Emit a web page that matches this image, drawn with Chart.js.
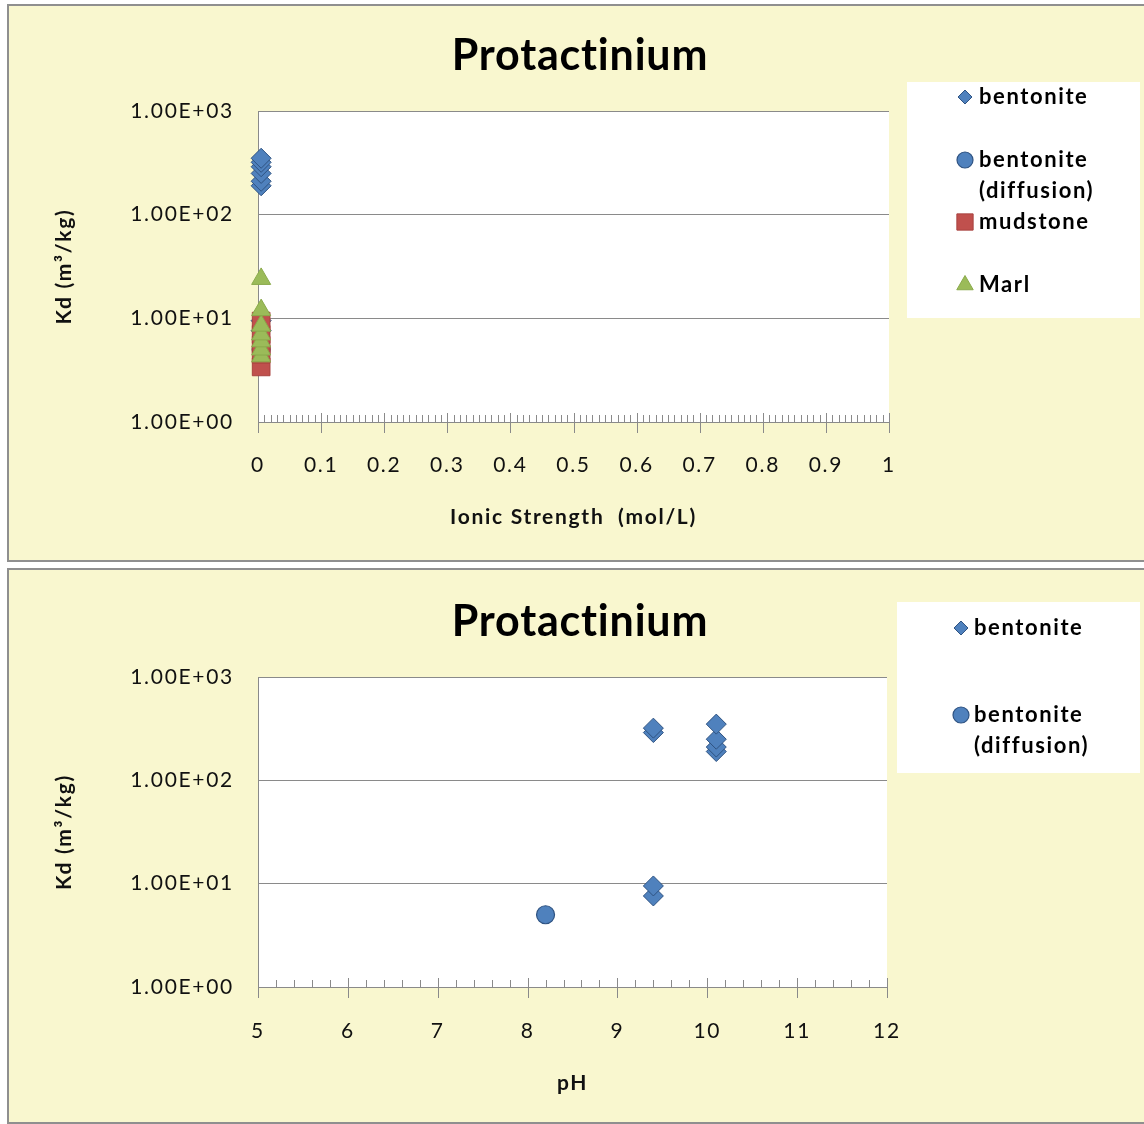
<!DOCTYPE html>
<html>
<head>
<meta charset="utf-8">
<title>Protactinium Kd</title>
<script src="https://cdn.jsdelivr.net/npm/chart.js@4.4.1/dist/chart.umd.min.js"></script>
<style>
  html, body { margin: 0; padding: 0; background: #ffffff; width: 1144px; height: 1124px; overflow: hidden; }
  .panel { position: absolute; left: 7px; width: 1150px; background: #F9F7CF; border: 2px solid #8f8f8f; box-sizing: border-box; }
  #p1 { top: 4px; height: 558px; }
  #p2 { top: 568px; height: 556px; }
  .wrap { position: absolute; left: 0; width: 1144px; }
  #w1 { top: 0; height: 565px; }
  #w2 { top: 565px; height: 559px; }
</style>
</head>
<body>
<div class="panel" id="p1"></div>
<div class="panel" id="p2"></div>
<div class="wrap" id="w1"><canvas id="c1"></canvas></div>
<div class="wrap" id="w2"><canvas id="c2"></canvas></div>
<script>
// ---- data ----
const chartTitle = 'Protactinium';
const seriesNames = ['bentonite', 'bentonite (diffusion)', 'mudstone', 'Marl'];
const kdTicks = [1, 10, 100, 1000];

// Kd versus ionic strength (mol/L)
const ionicBentoniteX = [0.005, 0.005, 0.005, 0.005, 0.005, 0.005, 0.005, 0.005];
const ionicBentoniteKd = [7.6, 9.5, 190, 210, 250, 290, 320, 350];
const ionicDiffusionX = [0.005];
const ionicDiffusionKd = [5];
const ionicMudstoneX = [0.005, 0.005, 0.005, 0.005, 0.005];
const ionicMudstoneKd = [3.4, 4.5, 5.5, 7, 9.4];
const ionicMarlX = [0.005, 0.005, 0.005, 0.005, 0.005, 0.005, 0.005];
const ionicMarlKd = [4.3, 5, 6, 7, 8.5, 12, 24];

// Kd versus pH
const phBentoniteX = [9.4, 9.4, 9.4, 9.4, 10.1, 10.1, 10.1, 10.1];
const phBentoniteKd = [7.6, 9.5, 290, 320, 190, 210, 250, 350];
const phDiffusionX = [8.2];
const phDiffusionKd = [5];

// ---- helpers ----
const pts = (xs, ys) => xs.map((x, i) => ({ x: x, y: ys[i] }));

function sciLabel(v) {
  const parts = Number(v).toExponential(2).split('e');
  const exp = parts[1];
  return parts[0] + 'E' + exp[0] + exp.slice(1).padStart(2, '0');
}
const plainLabel = v => String(Number(Number(v).toFixed(2)));

Chart.defaults.font.family = 'Lato';
Chart.defaults.font.size = 21;
Chart.defaults.color = '#111111';

const AXIS_GREY = '#8a8a8a';
const TEXT_SPACING = '1.7px';

const seriesStyle = [
  { pointStyle: 'rectRot', radius: 10, backgroundColor: '#4F81BD', borderColor: '#2F5382', borderWidth: 1 },
  { pointStyle: 'circle', radius: 9, backgroundColor: '#4F81BD', borderColor: '#2F5382', borderWidth: 1.2 },
  { pointStyle: 'rect', radius: 12.5, backgroundColor: '#C0504D', borderColor: '#A8423F', borderWidth: 1 },
  { pointStyle: 'triangle', radius: 11, backgroundColor: '#9BBB59', borderColor: '#8AAA4B', borderWidth: 1 }
];

function makeDataset(idx, data) {
  const s = seriesStyle[idx];
  return {
    label: seriesNames[idx],
    data: data,
    showLine: false,
    pointStyle: s.pointStyle,
    pointRadius: s.radius,
    pointHoverRadius: s.radius,
    backgroundColor: s.backgroundColor,
    borderColor: s.borderColor,
    borderWidth: s.borderWidth,
    order: 4 - idx,
    clip: false
  };
}

// slightly wider letter spacing for all chart text
const textSpacing = {
  id: 'textSpacing',
  beforeUpdate(chart) { chart.ctx.letterSpacing = TEXT_SPACING; },
  beforeDraw(chart) { chart.ctx.letterSpacing = TEXT_SPACING; }
};

// white plot area
const plotBackground = {
  id: 'plotBackground',
  beforeDraw(chart) {
    const a = chart.chartArea, ctx = chart.ctx;
    ctx.save();
    ctx.fillStyle = '#ffffff';
    ctx.fillRect(a.left, a.top, a.right - a.left, a.bottom - a.top);
    ctx.restore();
  }
};

// major ticks crossing the x axis, minor ticks pointing into the plot
const axisTicks = {
  id: 'axisTicks',
  beforeDatasetsDraw(chart, args, opts) {
    const s = chart.scales.x, ctx = chart.ctx;
    const y0 = s.top;
    const n = Math.round((s.max - s.min) / opts.minorStep);
    ctx.save();
    ctx.strokeStyle = opts.color;
    ctx.lineWidth = 1;
    for (let i = 0; i <= n; i++) {
      const v = s.min + i * opts.minorStep;
      const x = Math.round(s.getPixelForValue(v)) + 0.5;
      const major = i % opts.perMajor === 0;
      ctx.beginPath();
      ctx.moveTo(x, y0 - (major ? 9 : 7));
      ctx.lineTo(x, y0 + (major ? 11 : 0));
      ctx.stroke();
    }
    ctx.restore();
  }
};

// chart heading
const panelTitle = {
  id: 'panelTitle',
  afterDraw(chart, args, opts) {
    const ctx = chart.ctx;
    ctx.save();
    ctx.letterSpacing = opts.spacing;
    ctx.font = opts.font;
    ctx.fillStyle = '#000000';
    ctx.textAlign = 'center';
    ctx.textBaseline = 'middle';
    ctx.fillText(opts.text, opts.x, opts.y);
    ctx.restore();
  }
};

// legend box to the right of the plot
const sideLegend = {
  id: 'sideLegend',
  afterDraw(chart, args, opts) {
    const ctx = chart.ctx;
    ctx.save();
    ctx.fillStyle = '#ffffff';
    ctx.fillRect(opts.box.x, opts.box.y, opts.box.w, opts.box.h);
    opts.items.forEach(item => {
      const ds = chart.data.datasets[item.dataset];
      ctx.fillStyle = ds.backgroundColor;
      ctx.strokeStyle = ds.borderColor;
      ctx.lineWidth = ds.borderWidth;
      Chart.helpers.drawPoint(ctx, { pointStyle: ds.pointStyle, radius: item.radius, borderWidth: ds.borderWidth, rotation: 0 }, opts.markerX, item.y);
      ctx.fillStyle = '#000000';
      ctx.font = opts.font;
      ctx.letterSpacing = opts.spacing;
      ctx.textAlign = 'left';
      ctx.textBaseline = 'middle';
      const lines = ds.label.replace(' (', '\n(').split('\n');
      lines.forEach((t, k) => ctx.fillText(t, opts.textX, item.y + k * opts.lineGap));
    });
    ctx.restore();
  }
};

function buildOptions(cfg) {
  return {
    responsive: true,
    maintainAspectRatio: false,
    animation: false,
    events: [],
    layout: { padding: cfg.padding },
    plugins: {
      legend: { display: false },
      tooltip: { enabled: false },
      title: { display: false },
      panelTitle: { text: chartTitle, font: 'bold 43px Lato', spacing: '0.8px', x: 580, y: cfg.titleY },
      axisTicks: { minorStep: cfg.minorStep, perMajor: cfg.perMajor, color: AXIS_GREY },
      sideLegend: cfg.legend
    },
    scales: {
      x: {
        type: 'linear',
        min: cfg.xMin,
        max: cfg.xMax,
        ticks: { stepSize: cfg.xStep, padding: cfg.xLabelPad, font: { size: 21 }, color: '#111111', maxRotation: 0, callback: v => plainLabel(v) },
        grid: { display: false, drawTicks: false },
        border: { display: true, color: AXIS_GREY, width: 1 },
        title: { display: true, text: cfg.xTitle, font: { size: 21, weight: 'bold' }, color: '#111111', padding: { top: 0, bottom: cfg.xTitlePad } },
        afterFit(scale) { scale.height = 111; }
      },
      y: {
        type: 'logarithmic',
        min: 1,
        max: 1000,
        afterBuildTicks(scale) { scale.ticks = kdTicks.map(v => ({ value: v })); },
        ticks: { callback: v => sciLabel(v), padding: 24, font: { size: 21 }, color: '#111111' },
        grid: { color: AXIS_GREY, lineWidth: 1, drawTicks: false },
        border: { display: true, color: AXIS_GREY, width: 1 },
        title: { display: true, text: 'Kd (m³/kg)', font: { size: 21, weight: 'bold' }, color: '#111111', padding: { top: 4, bottom: 4 } },
        afterFit(scale) { scale.width = 210; }
      }
    }
  };
}

// Kd vs ionic strength
new Chart(document.getElementById('c1'), {
  type: 'scatter',
  data: {
    datasets: [
      makeDataset(0, pts(ionicBentoniteX, ionicBentoniteKd)),
      makeDataset(1, pts(ionicDiffusionX, ionicDiffusionKd)),
      makeDataset(2, pts(ionicMudstoneX, ionicMudstoneKd)),
      makeDataset(3, pts(ionicMarlX, ionicMarlKd))
    ]
  },
  options: buildOptions({
    padding: { left: 48, right: 255, top: 111, bottom: 32 },
    titleY: 56,
    xMin: 0, xMax: 1, xStep: 0.1, xLabelPad: 31,
    minorStep: 0.01, perMajor: 10,
    xTitle: 'Ionic Strength  (mol/L)', xTitlePad: 3,
    legend: {
      box: { x: 907, y: 82, w: 233, h: 236 },
      markerX: 965, textX: 979, lineGap: 31, font: 'bold 22px Lato', spacing: '1.6px',
      items: [
        { dataset: 0, y: 97, radius: 7 },
        { dataset: 1, y: 160, radius: 8 },
        { dataset: 2, y: 222, radius: 11.5 },
        { dataset: 3, y: 285, radius: 9.5 }
      ]
    }
  }),
  plugins: [textSpacing, plotBackground, axisTicks, panelTitle, sideLegend]
});

// Kd vs pH
new Chart(document.getElementById('c2'), {
  type: 'scatter',
  data: {
    datasets: [
      makeDataset(0, pts(phBentoniteX, phBentoniteKd)),
      makeDataset(1, pts(phDiffusionX, phDiffusionKd))
    ]
  },
  options: buildOptions({
    padding: { left: 48, right: 257, top: 112, bottom: 26 },
    titleY: 57,
    xMin: 5, xMax: 12, xStep: 1, xLabelPad: 32,
    minorStep: 0.2, perMajor: 5,
    xTitle: 'pH', xTitlePad: 2,
    legend: {
      box: { x: 897, y: 37, w: 243, h: 171 },
      markerX: 961, textX: 974, lineGap: 31, font: 'bold 22px Lato', spacing: '1.6px',
      items: [
        { dataset: 0, y: 63, radius: 7 },
        { dataset: 1, y: 150, radius: 8 }
      ]
    }
  }),
  plugins: [textSpacing, plotBackground, axisTicks, panelTitle, sideLegend]
});
</script>
</body>
</html>
